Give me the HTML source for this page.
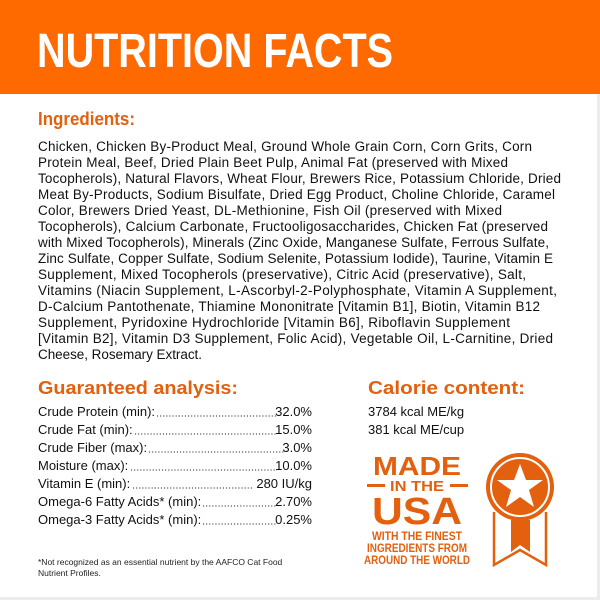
<!DOCTYPE html>
<html><head><meta charset="utf-8"><style>
html,body{margin:0;padding:0;background:#fff;}
svg{display:block;font-family:"Liberation Sans",sans-serif;}
</style></head><body>
<svg width="600" height="600" viewBox="0 0 600 600" xmlns="http://www.w3.org/2000/svg">
<rect x="0" y="0" width="600" height="600" fill="#fff"/>
<rect x="597" y="94" width="3" height="506" fill="#ececec"/>
<rect x="0" y="597" width="600" height="3" fill="#ececec"/>
<rect x="0" y="0" width="600" height="94" fill="#FF6A00"/>
<text x="37" y="67" font-size="48" font-weight="bold" fill="#fff" textLength="356" lengthAdjust="spacingAndGlyphs">NUTRITION FACTS</text>
<text x="38" y="125" font-size="18" font-weight="bold" fill="#E3600F" textLength="97" lengthAdjust="spacingAndGlyphs">Ingredients:</text>
<g font-size="13.5" fill="#111" lengthAdjust="spacingAndGlyphs">
<text x="38" y="151" textLength="494">Chicken, Chicken By-Product Meal, Ground Whole Grain Corn, Corn Grits, Corn</text>
<text x="38" y="167" textLength="470">Protein Meal, Beef, Dried Plain Beet Pulp, Animal Fat (preserved with Mixed</text>
<text x="38" y="183" textLength="523">Tocopherols), Natural Flavors, Wheat Flour, Brewers Rice, Potassium Chloride, Dried</text>
<text x="38" y="199" textLength="517">Meat By-Products, Sodium Bisulfate, Dried Egg Product, Choline Chloride, Caramel</text>
<text x="38" y="215" textLength="464">Color, Brewers Dried Yeast, DL-Methionine, Fish Oil (preserved with Mixed</text>
<text x="38" y="231" textLength="510">Tocopherols), Calcium Carbonate, Fructooligosaccharides, Chicken Fat (preserved</text>
<text x="38" y="247" textLength="511">with Mixed Tocopherols), Minerals (Zinc Oxide, Manganese Sulfate, Ferrous Sulfate,</text>
<text x="38" y="263" textLength="515">Zinc Sulfate, Copper Sulfate, Sodium Selenite, Potassium Iodide), Taurine, Vitamin E</text>
<text x="38" y="279" textLength="488">Supplement, Mixed Tocopherols (preservative), Citric Acid (preservative), Salt,</text>
<text x="38" y="295" textLength="519">Vitamins (Niacin Supplement, L-Ascorbyl-2-Polyphosphate, Vitamin A Supplement,</text>
<text x="38" y="311" textLength="502">D-Calcium Pantothenate, Thiamine Mononitrate [Vitamin B1], Biotin, Vitamin B12</text>
<text x="38" y="327" textLength="472">Supplement, Pyridoxine Hydrochloride [Vitamin B6], Riboflavin Supplement</text>
<text x="38" y="343" textLength="515">[Vitamin B2], Vitamin D3 Supplement, Folic Acid), Vegetable Oil, L-Carnitine, Dried</text>
<text x="38" y="359" textLength="164">Cheese, Rosemary Extract.</text>
</g>
<text x="38" y="394" font-size="18" font-weight="bold" fill="#E3600F" textLength="200" lengthAdjust="spacingAndGlyphs">Guaranteed analysis:</text>
<text x="368" y="394" font-size="18" font-weight="bold" fill="#E3600F" textLength="157" lengthAdjust="spacingAndGlyphs">Calorie content:</text>
<g font-size="13" fill="#111">
<text x="38" y="416">Crude Protein (min):</text><text x="312" y="416" text-anchor="end">32.0%</text>
<text x="38" y="434">Crude Fat (min):</text><text x="312" y="434" text-anchor="end">15.0%</text>
<text x="38" y="452">Crude Fiber (max):</text><text x="312" y="452" text-anchor="end">3.0%</text>
<text x="38" y="470">Moisture (max):</text><text x="312" y="470" text-anchor="end">10.0%</text>
<text x="38" y="488">Vitamin E (min):</text><text x="312" y="488" text-anchor="end">280 IU/kg</text>
<text x="38" y="506">Omega-6 Fatty Acids* (min):</text><text x="312" y="506" text-anchor="end">2.70%</text>
<text x="38" y="524">Omega-3 Fatty Acids* (min):</text><text x="312" y="524" text-anchor="end">0.25%</text>
<text x="368" y="416">3784 kcal ME/kg</text>
<text x="368" y="434">381 kcal ME/cup</text>
</g>
<g stroke="#222" stroke-width="1.1" stroke-dasharray="1.1 2">
<line x1="157" y1="416" x2="277" y2="416"/>
<line x1="135" y1="434" x2="277" y2="434"/>
<line x1="149" y1="452" x2="284" y2="452"/>
<line x1="131" y1="470" x2="277" y2="470"/>
<line x1="133" y1="488" x2="254" y2="488"/>
<line x1="203" y1="506" x2="277" y2="506"/>
<line x1="203" y1="524" x2="277" y2="524"/>
</g>
<text x="38" y="565" font-size="8.5" fill="#222">*Not recognized as an essential nutrient by the AAFCO Cat Food</text>
<text x="38" y="576" font-size="8.5" fill="#222">Nutrient Profiles.</text>
<g fill="#E3600F" font-weight="bold">
<text x="417" y="475" font-size="26" text-anchor="middle" textLength="88" lengthAdjust="spacingAndGlyphs">MADE</text>
<rect x="367" y="484" width="18" height="3"/><rect x="450" y="484" width="18" height="3"/>
<text x="417" y="491" font-size="15" text-anchor="middle" textLength="54" lengthAdjust="spacingAndGlyphs">IN THE</text>
<text x="417" y="524" font-size="38" text-anchor="middle" textLength="90" lengthAdjust="spacingAndGlyphs">USA</text>
<text x="417" y="540" font-size="11.5" text-anchor="middle" textLength="90" lengthAdjust="spacingAndGlyphs">WITH THE FINEST</text>
<text x="417" y="552" font-size="11.5" text-anchor="middle" textLength="100" lengthAdjust="spacingAndGlyphs">INGREDIENTS FROM</text>
<text x="417" y="564" font-size="11.5" text-anchor="middle" textLength="106" lengthAdjust="spacingAndGlyphs">AROUND THE WORLD</text>
</g>
<g>
<path d="M494 512 L494 565 L520 550 L546 565 L546 512" fill="#fff" stroke="#E3600F" stroke-width="2.5"/>
<path d="M511 520 L530 520 L530 552 L520 545 L511 552 Z" fill="#E3600F"/>
<circle cx="520" cy="487" r="34" fill="#E3600F"/>
<circle cx="520" cy="487" r="29" fill="none" stroke="#fff" stroke-width="2"/>
<polygon fill="#fff" points="520,464 526,480 543,480 529,490 534,507 520,497 506,507 511,490 497,480 514,480"/>
</g>
</svg>
</body></html>
